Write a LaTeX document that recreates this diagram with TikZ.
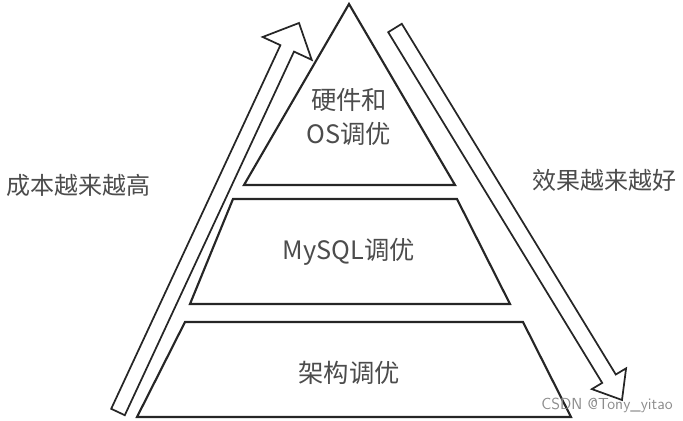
\documentclass[tikz,border=0pt]{standalone}
\usepackage{fontspec}
\newfontfamily\cjk{Noto Sans CJK SC}
\begin{document}
\begin{tikzpicture}[x=0.75pt,y=-0.75pt,
  shape line/.style={draw=black!85,line width=1.6pt,line join=miter},
  lbl/.style={font=\cjk\fontsize{19}{26}\selectfont,text=black!70,align=center},
  side/.style={font=\cjk\fontsize{18}{22}\selectfont,text=black!70}]
\useasboundingbox (0,0) rectangle (683,421);
% pyramid
\draw[shape line] (349,4) -- (455,185) -- (244,185) -- cycle;
\draw[shape line] (233,199) -- (457,199) -- (510,304) -- (190,304) -- cycle;
\draw[shape line] (185,322) -- (523,322) -- (571,417) -- (137,417) -- cycle;
% left arrow
\draw[shape line,line width=1.3pt] (111.2,408.8) -- (124.8,415.2) -- (294.0,51.6) -- (311.7,59.8) -- (299,23) -- (262.7,37.0) -- (280.4,45.2) -- cycle;
% right arrow
\draw[shape line,line width=1.3pt] (388.2,32.2) -- (401.8,23.8) -- (615.8,374.5) -- (626.1,368.3) -- (622,400) -- (591.9,389.1) -- (602.2,382.9) -- cycle;
\node[lbl] (top) at (349,117) {硬件和\\OS调优};
\node[lbl] (mid) at (349,252) {MySQL调优};
\node[lbl] (bot) at (349,373) {架构调优};
\node[side] (cost) at (79,185) {成本越来越高};
\node[side] (eff) at (604,180) {效果越来越好};
\node[font=\sffamily\fontsize{12}{14}\selectfont,text=black!45] (wm) at (607,405) {CSDN @Tony\_yitao};
\end{tikzpicture}
\end{document}
